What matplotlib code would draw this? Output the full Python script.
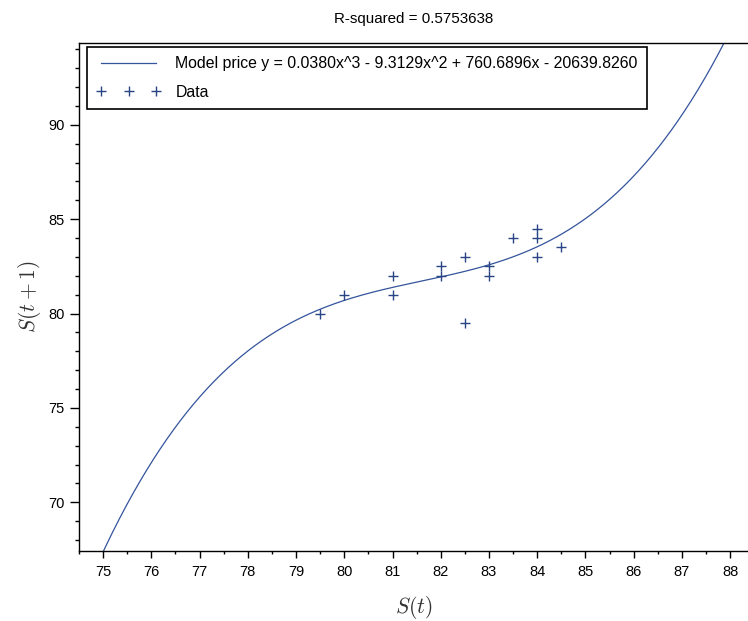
import numpy as np
import matplotlib
matplotlib.use("Agg")
import matplotlib.pyplot as plt
from matplotlib.ticker import MultipleLocator

# Data: S(t) vs S(t+1)
s_t = [79.5, 80, 81, 81, 82, 82, 82.5, 82.5, 83, 83, 83.5, 84, 84, 84, 84.5]
s_t1 = [80, 81, 82, 81, 82.5, 82, 83, 79.5, 82.5, 82, 84, 84.5, 84, 83, 83.5]

# Model (cubic) curve values
model_x = [75, 76, 77, 78, 79, 80, 81, 82, 83, 84, 86.56, 87.85]
model_y = [67.48, 71.9, 75.7, 78.05, 79.52, 80.7, 81.4, 82.0, 82.62, 83.6, 88.73, 94.35]

title_text = "R-squared = 0.5753638"
model_label = "Model price y = 0.0380x^3 - 9.3129x^2 + 760.6896x - 20639.8260"
data_label = "Data"
x_ticks = list(range(75, 89))
y_ticks = [70, 75, 80, 85, 90]

line_blue = "#34549c"
mark_blue = "#2a4586"

plt.rcParams['font.family'] = ['Liberation Sans', 'DejaVu Sans']
plt.rcParams['mathtext.fontset'] = 'cm'

fig = plt.figure(figsize=(7.48, 6.21), dpi=100)
W, H = 748, 621
ax_left, ax_right, ax_top, ax_bottom = 79, 748, 42.7, 551
ax = fig.add_axes([ax_left / W, 1 - ax_bottom / H, (ax_right - ax_left) / W, (ax_bottom - ax_top) / H])

# cubic model through the read curve values
coef = np.polyfit(model_x, model_y, 3)
xs = np.linspace(74.5, 88.5, 400)
ax.plot(xs, np.polyval(coef, xs), color=line_blue, lw=0.9, label=model_label)
ax.plot(s_t, s_t1, linestyle='none', marker='+', markersize=7.5, markeredgewidth=1.0,
        color=mark_blue, label=data_label)

ax.set_xlim(74.5, 88.37)
ax.set_ylim(67.42, 94.35)
ax.set_xticks(x_ticks)
ax.set_yticks(y_ticks)
ax.xaxis.set_minor_locator(MultipleLocator(0.5))
ax.yaxis.set_minor_locator(MultipleLocator(1))
ax.tick_params(axis='x', which='major', length=4.8, width=1, direction='out', labelsize=10.5, pad=5)
ax.tick_params(axis='x', which='minor', length=2.4, width=1, direction='out')
ax.tick_params(axis='y', which='major', length=6.2, width=1, direction='out', labelsize=10.5, pad=4)
ax.tick_params(axis='y', which='minor', length=3.1, width=1, direction='out')
ax.spines['right'].set_visible(False)
for s in ['left', 'bottom', 'top']:
    ax.spines[s].set_linewidth(1.0)

ax.set_xlabel(r'$S(t)$', fontsize=15.5, labelpad=11, color='#333333')
ax.set_ylabel(r'$S(t+1)$', fontsize=15.5, labelpad=4, color='#333333')
ax.set_title(title_text, fontsize=10.9, pad=14)

leg = ax.legend(loc='upper left', bbox_to_anchor=(86.7 / W, 1 - 46.7 / H),
                bbox_transform=fig.transFigure, borderaxespad=0, fontsize=11.4,
                numpoints=3, handlelength=4.1, handletextpad=0.9, labelspacing=0.85,
                borderpad=0.6, fancybox=False, framealpha=1, edgecolor='black')
leg.get_frame().set_linewidth(1.2)

fig.savefig('out.png', dpi=100)
